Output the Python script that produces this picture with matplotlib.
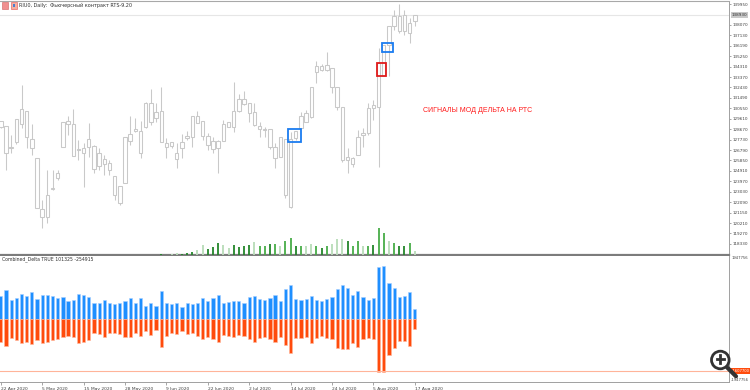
import matplotlib
matplotlib.use('Agg')
import matplotlib.pyplot as plt
from matplotlib.patches import Rectangle, Circle
from matplotlib.lines import Line2D

# ---------------- data ----------------
opens = [129450, 128990, 126950, 127490, 129110, 130350, 127760, 126040, 121460, 120770,
         123270, 124230, 127100, 129170, 129170, 126790, 126490, 127100, 127160, 125350,
         125980, 125590, 124440, 123540, 123840, 127610, 128540, 128510, 128900, 131010,
         129660, 130320, 127400, 127160, 126490, 126950, 127850, 127940, 129870, 129420,
         128060, 127610, 126950, 127610, 128900, 128900, 130320, 131370, 131070, 130260,
         128960, 128660, 128660, 127040, 126190, 127760, 121670, 127850, 128750, 129350,
         129800, 133820, 134380, 134030, 134180, 132460, 130710, 125890, 126040, 126340,
         128150, 128300, 130560, 130710, 133480, 136290, 137940, 138900, 137490, 138240,
         138390]
highs = [129450, 128990, 128150, 129570, 132670, 130350, 129110, 126040, 122270, 124990,
         124990, 124990, 129360, 129870, 130470, 127700, 127400, 129270, 127250, 126950,
         126340, 125890, 124440, 123540, 127940, 129870, 129660, 129420, 131160, 132280,
         131010, 132460, 127850, 127550, 127400, 128240, 128540, 129870, 130350, 129420,
         128360, 128000, 127700, 129510, 129360, 132910, 131830, 132130, 131070, 131040,
         129360, 128900, 128660, 127400, 127940, 127760, 128450, 128540, 130260, 130410,
         132460, 134780, 134500, 135620, 134180, 132460, 130710, 126940, 126190, 128600,
         128750, 131010, 131310, 135980, 136290, 138000, 139450, 139960, 139450, 138700,
         138990]
lows = [128750, 124990, 126490, 127340, 128750, 126950, 126340, 121520, 119800, 120170,
        123180, 124080, 127100, 128150, 126280, 125890, 123480, 126190, 124690, 124990,
        124530, 124530, 122270, 121820, 123840, 127250, 128450, 126040, 128750, 129050,
        129360, 127490, 126040, 126950, 125140, 126040, 127700, 127100, 129200, 127700,
        126790, 126490, 124690, 127610, 128900, 128450, 130260, 130860, 129360, 128960,
        128000, 128000, 126850, 125140, 126190, 122430, 121580, 127700, 128660, 129300,
        129650, 132820, 133900, 133870, 131920, 130410, 125740, 124740, 125290, 126340,
        127100, 128150, 129500, 125260, 133420, 133420, 137640, 137340, 137190, 136430,
        137940]
closes = [128900, 126490, 127040, 129570, 130470, 127940, 126950, 121520, 120710, 122730,
          123390, 124690, 129300, 129420, 126280, 126880, 126950, 127760, 125080, 126490,
          125530, 124990, 122730, 121970, 127940, 128240, 128660, 126490, 131070, 129360,
          130200, 127490, 127100, 127490, 125950, 127550, 128090, 129870, 129270, 128090,
          127220, 126880, 127610, 129110, 129300, 130320, 131370, 130920, 130170, 129050,
          128660, 128600, 127100, 126040, 127940, 122730, 127760, 128540, 129870, 130140,
          132460, 134380, 134030, 134480, 132460, 130710, 125890, 126190, 125530, 128000,
          128300, 130560, 130860, 134630, 136290, 137940, 138900, 137490, 138990, 137340,
          138930]
volumes = [0] * 31 + [
    14000, 0, 8000, 26000, 14000, 26000, 46000, 80000, 180000, 100000,
    146000, 214000, 180000, 114000, 180000, 134000, 160000, 180000, 236000, 156000,
    170000, 190000, 204000, 170000, 250000, 310000, 170000, 156000, 170000, 190000,
    170000, 124000, 156000, 190000, 290000, 290000, 250000, 170000, 250000, 170000,
    170000, 176000, 510000, 404000, 250000, 210000, 156000, 164000, 224000, 64000]
vol_shade = [0] * 31 + [
    0, 0, 2, 2, 0, 0, 0, 2, 2, 0,
    0, 0, 2, 2, 0, 0, 0, 0, 2, 1,
    1, 0, 1, 2, 1, 1, 0, 1, 2, 2,
    1, 0, 1, 2, 2, 2, 0, 1, 1, 2,
    1, 0, 1, 1, 2, 1, 0, 0, 1, 2]
delta_buy = [711000, 897000, 587000, 640000, 773000, 711000, 825000, 609000, 742000, 742000,
             711000, 640000, 671000, 556000, 587000, 773000, 742000, 689000, 504000, 504000,
             587000, 504000, 464000, 504000, 556000, 640000, 504000, 640000, 402000, 504000,
             402000, 875000, 504000, 464000, 504000, 380000, 504000, 464000, 504000, 640000,
             556000, 640000, 742000, 504000, 535000, 566000, 556000, 504000, 671000, 720000,
             609000, 578000, 649000, 733000, 547000, 918000, 1042000, 618000, 587000, 618000,
             720000, 587000, 556000, 618000, 671000, 928000, 1042000, 949000, 742000, 856000,
             671000, 587000, 640000, 1617000, 1639000, 1104000, 949000, 671000, 720000, 844000,
             309000]
delta_sell = [702000, 835000, 597000, 649000, 733000, 702000, 773000, 649000, 733000, 702000,
              649000, 628000, 547000, 516000, 547000, 733000, 702000, 649000, 424000, 473000,
              547000, 442000, 424000, 464000, 547000, 547000, 442000, 526000, 362000, 495000,
              340000, 856000, 526000, 442000, 473000, 362000, 464000, 424000, 516000, 618000,
              547000, 609000, 702000, 495000, 526000, 547000, 495000, 526000, 628000, 702000,
              578000, 547000, 618000, 702000, 547000, 813000, 1042000, 597000, 597000, 566000,
              733000, 578000, 526000, 597000, 628000, 906000, 937000, 928000, 733000, 856000,
              628000, 597000, 618000, 1629000, 1629000, 1113000, 906000, 665000, 680000, 835000,
              309000]
delta_level = -1607700
delta_range = 1947756
date_idx = [0, 8, 16, 24, 32, 40, 48, 56, 64, 72, 80]
date_labels = ['22 Apr 2020', '5 May 2020', '15 May 2020', '28 May 2020', '9 Jun 2020',
               '22 Jun 2020', '2 Jul 2020', '14 Jul 2020', '24 Jul 2020', '5 Aug 2020',
               '17 Aug 2020']
price_ticks = [139950, 138070, 137130, 136190, 135250, 134310, 133370, 132430,
               131490, 130550, 129610, 128670, 127730, 126790, 125850, 124910, 123970,
               123030, 122090, 121150, 120210, 119270, 118330]
# signal boxes: (first index, last index, low price, high price, colour)
signals = [(55.4, 58.1, 127540, 128657, '#1a7cf0'),
           (72.6, 74.4, 133488, 134660, '#e01b1b'),
           (73.7, 75.85, 135597, 136408, '#1a7cf0')]
title = 'RIU0, Daily:  Фьючерсный контракт RTS-9.20'
sub_title = 'Combined_Delta TRUE 101325 -254915'
note = 'СИГНАЛЫ МОД ДЕЛЬТА НА РТС'

# ---------------- figure ----------------
W, H = 750, 390
fig = plt.figure(figsize=(W / 100, H / 100), dpi=100)
fig.patch.set_facecolor('white')
plt.rcParams['font.family'] = ['DejaVu Sans']

axw = 729 / W
ax = fig.add_axes([0, 1 - 254.5 / H, axw, (254.5 - 1) / H])
ax2 = fig.add_axes([0, 1 - 382 / H, axw, (382 - 256) / H])

n = len(closes)
xs = list(range(n))
xlim = (-0.155, 140.71)
edge = '#c9c9c9'
lab = 3.0

# volumes on twin axis
axv = ax.twinx()
vcols = ['#23862a', '#48ad48', '#b8dcb8']
axv.vlines(xs, 0, volumes, colors=[vcols[s] for s in vol_shade], lw=1.3)
axv.set_ylim(0, 4.79e6)
axv.set_yticks([])
for s in axv.spines.values():
    s.set_visible(False)

# candles
ax.vlines(xs, lows, highs, color=edge, lw=0.75, zorder=2)
bottoms = [min(o, c) for o, c in zip(opens, closes)]
heights = [abs(c - o) for o, c in zip(opens, closes)]
ax.bar(xs, heights, bottom=bottoms, width=0.66, facecolor='white',
       edgecolor=edge, linewidth=0.75, zorder=3)
ax.axhline(closes[-1], color='#e6e6e6', lw=0.8, zorder=1)

for x0, x1, lo, hi, col in signals:
    ax.add_patch(Rectangle((x0, lo), x1 - x0, hi - lo, fill=False,
                           edgecolor=col, lw=1.3, zorder=5))

ax.set_xlim(*xlim)
ax.set_ylim(117373, 140221)
ax.yaxis.tick_right()
ax.set_yticks(price_ticks)
ax.set_yticklabels([str(p) for p in price_ticks], fontsize=lab, color='#404040')
ax.tick_params(axis='y', length=1.6, width=0.5, color='#808080', pad=0.8)
ax.set_xticks([])
ax.spines['left'].set_visible(False)
ax.spines['top'].set_color('#a8a8a8')
ax.spines['top'].set_linewidth(0.8)
ax.spines['right'].set_color('#a0a0a0')
ax.spines['right'].set_linewidth(0.7)
ax.spines['bottom'].set_color('#7c7c7c')
ax.spines['bottom'].set_linewidth(1.6)
ax.annotate(str(closes[-1]), xy=(1, closes[-1]), xycoords=('axes fraction', 'data'),
            xytext=(1.8, 0), textcoords='offset points', fontsize=lab, va='center',
            color='#303030', annotation_clip=False,
            bbox=dict(boxstyle='square,pad=0.2', fc='#c8c8c8', ec='none'))

# indicator
ax2.bar(xs, delta_buy, width=0.62, color='#1e8fff', edgecolor='#a4ceff', linewidth=0.4)
ax2.bar(xs, [-v for v in delta_sell], width=0.62, color='#ff4b0c',
        edgecolor='#ffb89c', linewidth=0.4)
ax2.axhline(delta_level, color='#ffb499', lw=0.8)
ax2.set_xlim(*xlim)
ax2.set_ylim(-delta_range, delta_range)
ax2.set_yticks([])
ax2.spines['left'].set_visible(False)
ax2.spines['top'].set_visible(False)
ax2.spines['right'].set_color('#a0a0a0')
ax2.spines['right'].set_linewidth(0.7)
ax2.spines['bottom'].set_color('#a0a0a0')
ax2.spines['bottom'].set_linewidth(0.7)
ax2.set_xticks(date_idx)
ax2.set_xticklabels(date_labels, ha='left')
ax2.tick_params(axis='x', length=2.5, width=0.5, color='#808080', labelsize=3.2,
                labelcolor='#404040', pad=0.8)
small = 2.7
ax2.annotate(str(delta_range), xy=(1, delta_range), xycoords=('axes fraction', 'data'),
             xytext=(1.5, -1.5), textcoords='offset points', fontsize=small,
             va='center', color='#404040', annotation_clip=False)
ax2.annotate('-' + str(delta_range), xy=(1, -delta_range), xycoords=('axes fraction', 'data'),
             xytext=(1.0, 1.2), textcoords='offset points', fontsize=small,
             va='center', color='#404040', annotation_clip=False)
ax2.annotate(str(delta_level), xy=(1, delta_level), xycoords=('axes fraction', 'data'),
             xytext=(2.0, 0), textcoords='offset points', fontsize=small, va='center',
             color='white', annotation_clip=False,
             bbox=dict(boxstyle='square,pad=0.15', fc='#ff4b0c', ec='none'))

# texts
fig.text(19 / W, 1 - 5.5 / H, title, fontsize=3.5, va='center', color='#303030')
fig.text(1.5 / W, 1 - 259.5 / H, sub_title, fontsize=3.3, va='center', color='#303030')
fig.text(423 / W, 1 - 110.5 / H, note, fontsize=5, va='center', color='#ff1a1a',
         family=['Liberation Sans', 'DejaVu Sans'])

# small header icons (pixel -> inch coordinates)
T = fig.dpi_scale_trans
def px(x, y):
    return (x / 100, (H - y) / 100)
fig.patches.append(Rectangle(px(1.5, 8.5), 0.065, 0.06, transform=T,
                             facecolor='#f09090', edgecolor='#d06060', lw=0.4))
fig.patches.append(Rectangle(px(10.5, 8.5), 0.065, 0.06, transform=T,
                             facecolor='#f6b0a0', edgecolor='#e05050', lw=0.4))
fig.patches.append(Rectangle(px(12.5, 7.2), 0.025, 0.035, transform=T,
                             facecolor='#4a7fd0', edgecolor='none'))

# magnifier overlay
fig.patches.append(Circle(px(720.3, 360.0), 0.088, transform=T, facecolor='white',
                          edgecolor='#333333', lw=2.0))
fig.lines.append(Line2D([7.275, 7.36], [(H - 367.8) / 100, (H - 376.3) / 100],
                        transform=T, color='#333333', lw=3.0, solid_capstyle='round'))
fig.lines.append(Line2D([7.165, 7.241], [(H - 359.2) / 100, (H - 359.2) / 100],
                        transform=T, color='#333333', lw=2.0))
fig.lines.append(Line2D([7.203, 7.203], [(H - 355.4) / 100, (H - 363.0) / 100],
                        transform=T, color='#333333', lw=2.0))

fig.savefig('out.png', dpi=100, facecolor='white')
